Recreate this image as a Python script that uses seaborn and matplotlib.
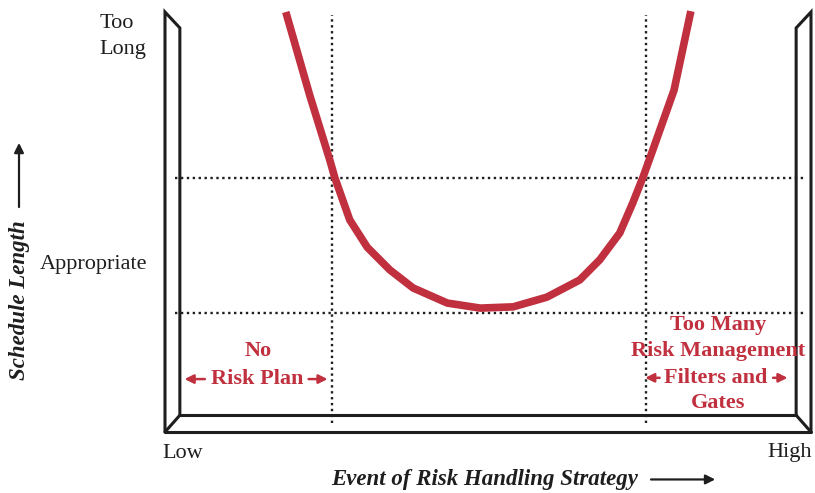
import seaborn as sns
import matplotlib.pyplot as plt
import pandas as pd

# strategy position (0 = Low, 100 = High) and schedule length (0..100)
strategy = [18.7, 22.4, 25.5, 26.3, 28.6, 31.3, 34.8, 38.4, 43.7, 48.8,
            53.9, 59.1, 64.2, 67.3, 70.4, 72.4, 74.0, 75.5, 78.8, 81.4]
schedule = [100.0, 80.2, 64.8, 60.5, 50.5, 44.0, 38.6, 34.3, 30.7, 29.5,
            29.8, 32.1, 36.2, 41.0, 47.4, 54.5, 60.7, 67.1, 81.4, 100.2]
bounds_x = [25.9, 74.5]      # dotted vertical limits
bounds_y = [60.5, 28.3]      # dotted horizontal limits
level_labels = ["Too\nLong", "Appropriate"]
end_labels = ["Low", "High"]

RED = "#c0303f"
DARK = "#1e1e1e"
SERIF = ["Liberation Serif", "DejaVu Serif"]

sns.set_theme(style="white")
plt.rcParams["font.family"] = SERIF

fig = plt.figure(figsize=(8.15, 4.93), dpi=100)
ax = fig.add_axes([165 / 815, 61 / 493, 646 / 815, 420 / 493])
ax.set_xlim(0, 100)
ax.set_ylim(0, 100)
ax.axis("off")

# 3D style frame
fx = 2.3
fy = 4.0
frame = dict(color=DARK, lw=2.2, clip_on=False, solid_joinstyle="miter")
ax.plot([0, 0, fx, fx], [0, 100, 96.2, fy], **frame)
ax.plot([100, 100, 100 - fx, 100 - fx], [0, 100, 96.2, fy], **frame)
ax.plot([0, 100], [0, 0], **frame)
ax.plot([fx, 100 - fx], [fy, fy], **frame)
ax.plot([0, fx], [0, fy], **frame)
ax.plot([100, 100 - fx], [0, fy], **frame)

# dotted guides
dots = dict(color=DARK, lw=1.7, ls=(0, (1, 1.5)), clip_on=False)
for xv in bounds_x:
    ax.plot([xv, xv], [2.1, 99.3], **dots)
for yv in bounds_y:
    ax.plot([1.5, 99.0], [yv, yv], **dots)

# curve
df = pd.DataFrame({"strategy": strategy, "schedule": schedule})
sns.lineplot(data=df, x="strategy", y="schedule", ax=ax, color=RED,
             lw=5.5, sort=False, legend=False)
curve = ax.lines[-1]
curve.set_clip_on(False)
curve.set_solid_capstyle("butt")
ax.set_xlabel("")
ax.set_ylabel("")

# level labels
ax.text(-10.1, 94.2, level_labels[0], ha="left", va="center", fontsize=16,
        color=DARK, linespacing=1.55)
ax.text(-11, 40, level_labels[1], ha="center", va="center", fontsize=16,
        color=DARK)
ax.text(2.8, -5, end_labels[0], ha="center", va="center", fontsize=16, color=DARK)
ax.text(96.7, -5, end_labels[1], ha="center", va="center", fontsize=16, color=DARK)

# axis titles
ax.text(-22.5, 31.4, "Schedule Length", rotation=90, ha="center", va="center",
        fontsize=16.5, fontweight="bold", fontstyle="italic", color=DARK)
ax.annotate("", xy=(-22.6, 69.5), xytext=(-22.6, 52.9), xycoords="data",
            arrowprops=dict(arrowstyle="-|>", color=DARK, lw=1.6,
                            mutation_scale=14), annotation_clip=False)
ax.text(49.5, -11.4, "Event of Risk Handling Strategy", ha="center", va="center",
        fontsize=16.5, fontweight="bold", fontstyle="italic", color=DARK)
ax.annotate("", xy=(85.6, -11.3), xytext=(74.8, -11.3),
            arrowprops=dict(arrowstyle="-|>", color=DARK, lw=1.6,
                            mutation_scale=14), annotation_clip=False)

# red region labels
red = dict(ha="center", va="center", fontsize=16, fontweight="bold", color=RED)
ax.text(14.4, 19.3, "No", **red)
ax.text(14.2, 12.6, "Risk Plan", **red)
ax.text(85.6, 25.5, "Too Many", **red)
ax.text(85.6, 19.3, "Risk Management", **red)
ax.text(85.3, 12.9, "Filters and", **red)
ax.text(85.6, 6.9, "Gates", **red)

arr = dict(arrowstyle="-|>", color=RED, lw=1.8, mutation_scale=13)
for start, end, yv in [(6.6, 2.6, 12.6), (21.8, 25.6, 12.6),
                       (77.0, 73.9, 12.9), (93.7, 96.8, 12.9)]:
    ax.annotate("", xy=(end, yv), xytext=(start, yv), arrowprops=arr,
                annotation_clip=False)

fig.savefig("out.png", dpi=100)
